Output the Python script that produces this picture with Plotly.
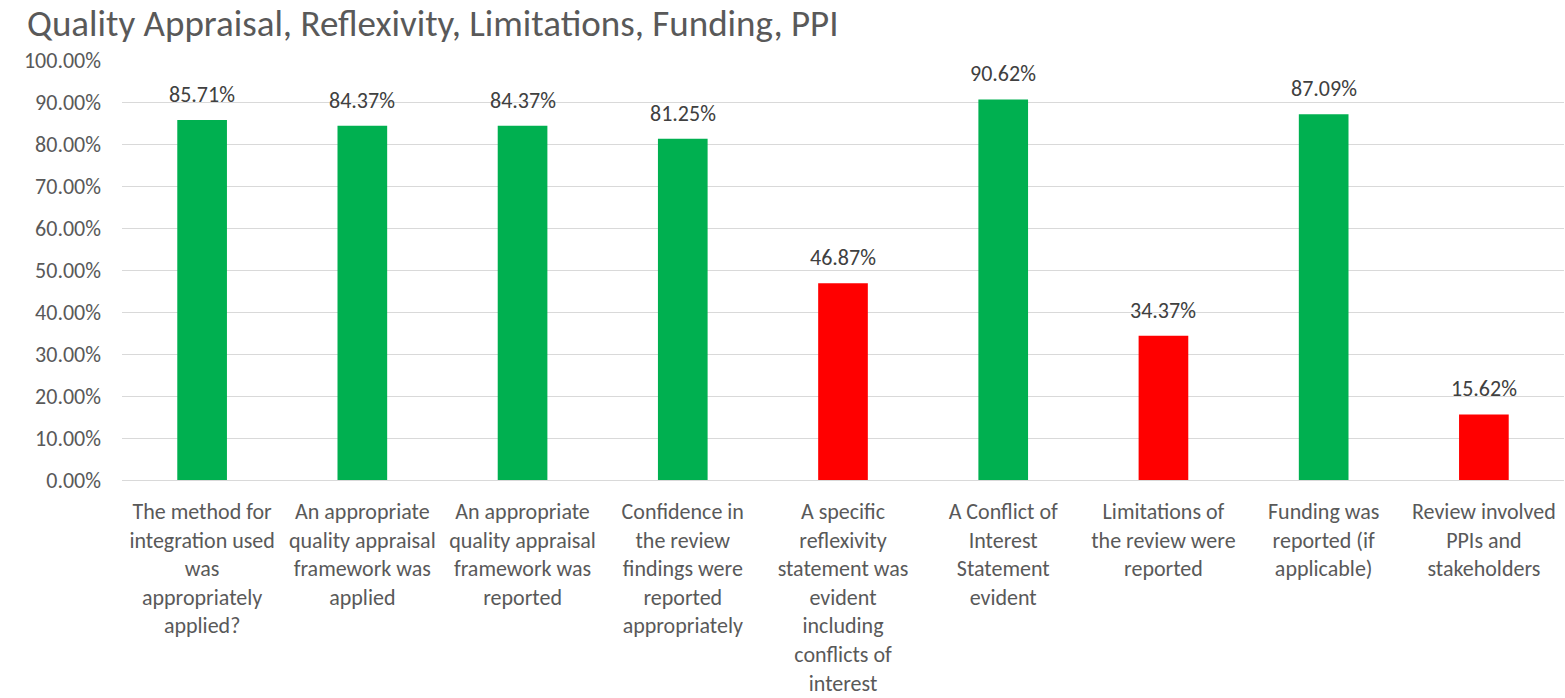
import plotly.graph_objects as go

categories = [
    "The method for<br>integration used<br>was<br>appropriately<br>applied?",
    "An appropriate<br>quality appraisal<br>framework was<br>applied",
    "An appropriate<br>quality appraisal<br>framework was<br>reported",
    "Confidence in<br>the review<br>findings were<br>reported<br>appropriately",
    "A specific<br>reflexivity<br>statement was<br>evident<br>including<br>conflicts of<br>interest",
    "A Conflict of<br>Interest<br>Statement<br>evident",
    "Limitations of<br>the review were<br>reported",
    "Funding was<br>reported (if<br>applicable)",
    "Review involved<br>PPIs and<br>stakeholders",
]
values = [0.8571, 0.8437, 0.8437, 0.8125, 0.4687, 0.9062, 0.3437, 0.8709, 0.1562]
value_labels = ["85.71%", "84.37%", "84.37%", "81.25%", "46.87%", "90.62%", "34.37%", "87.09%", "15.62%"]
bar_colors = ["#00B050", "#00B050", "#00B050", "#00B050", "#FF0000",
              "#00B050", "#FF0000", "#00B050", "#FF0000"]
y_ticks = [i / 10 for i in range(11)]

FONT = "Carlito, Calibri, Lato, sans-serif"
xs = list(range(len(categories)))

fig = go.Figure(
    go.Bar(
        x=xs,
        y=values,
        marker=dict(color=bar_colors, line=dict(width=0)),
        width=0.31,
        hoverinfo="skip",
    )
)

for xi, v, lab in zip(xs, values, value_labels):
    fig.add_annotation(
        x=xi, y=v, text=lab, showarrow=False,
        xanchor="center", yanchor="bottom", yshift=10,
        font=dict(family=FONT, size=22, color="#404040"),
    )

fig.update_layout(
    width=1565,
    height=698,
    paper_bgcolor="white",
    plot_bgcolor="white",
    margin=dict(l=122, r=1, t=60, b=218, autoexpand=False),
    title=dict(
        text="Quality Appraisal, Reflexivity, Limitations, Funding, PPI",
        x=27 / 1565, xanchor="left", xref="container",
        y=1 - 23 / 698, yanchor="middle", yref="container",
        font=dict(family=FONT, size=37, color="#595959"),
    ),
    showlegend=False,
)

fig.update_xaxes(
    tickmode="array",
    tickvals=xs,
    ticktext=categories,
    range=[-0.5, len(categories) - 0.5],
    tickangle=0,
    tickfont=dict(family=FONT, size=22, color="#595959"),
    showgrid=False,
    showline=False,
    ticks="",
    zeroline=False,
    automargin=False,
    ticklabelstandoff=16,
)
fig.update_yaxes(
    range=[0, 1.0],
    tickmode="array",
    tickvals=y_ticks,
    tickformat=".2%",
    tickfont=dict(family=FONT, size=22, color="#595959"),
    showgrid=True,
    gridcolor="#D9D9D9",
    gridwidth=1,
    zeroline=True,
    zerolinecolor="#D9D9D9",
    zerolinewidth=1,
    showline=False,
    ticks="",
    automargin=False,
    ticklabelstandoff=20,
)

fig.write_html(
    "out.html",
    config={"displayModeBar": False},
    post_script="document.body.style.margin='0';document.body.style.overflow='hidden';",
)
